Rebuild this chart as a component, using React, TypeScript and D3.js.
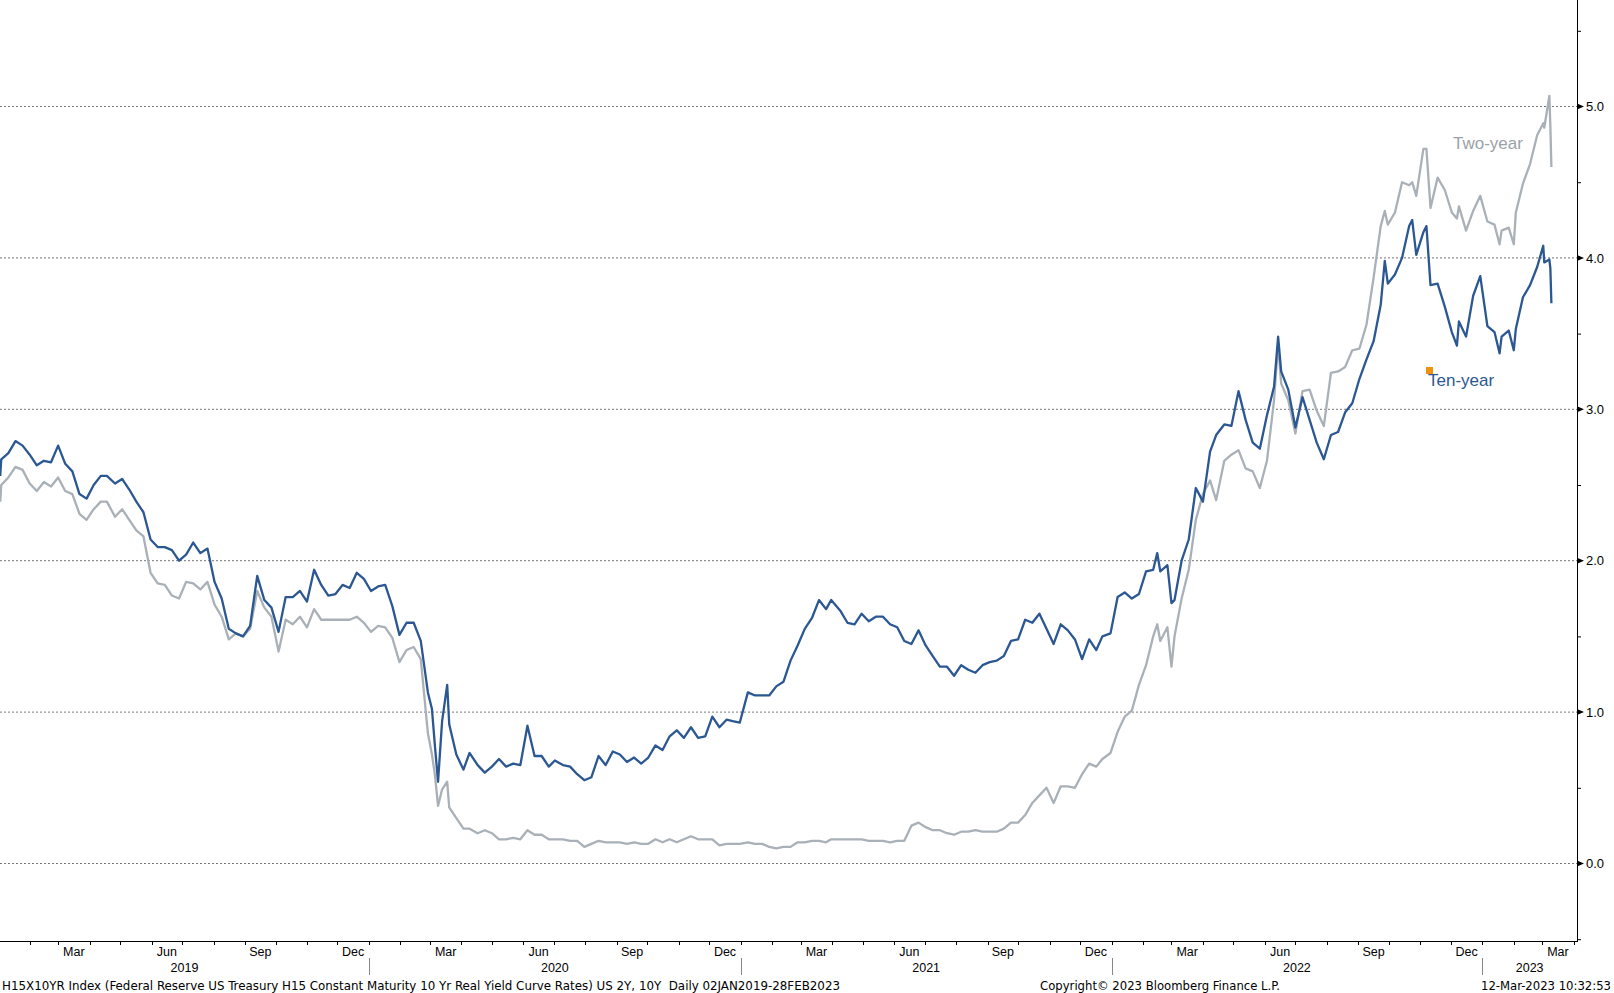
import React from 'react';
import * as d3 from 'd3';

// weekly closes (plus a few spike days)
const dates2019 = ['01-03', '01-04', '01-11', '01-18', '01-25', '02-01', '02-08', '02-15', '02-22',
  '03-01', '03-08', '03-15', '03-22', '03-29', '04-05', '04-12', '04-18', '04-26',
  '05-03', '05-10', '05-17', '05-24', '05-31', '06-07', '06-14', '06-21', '06-28',
  '07-05', '07-12', '07-19', '07-26', '08-02', '08-09', '08-16', '08-23', '08-30',
  '09-06', '09-13', '09-20', '09-27', '10-04', '10-11', '10-18', '10-25',
  '11-01', '11-08', '11-15', '11-22', '11-29', '12-06', '12-13', '12-20', '12-27'];
const ten2019 = [2.56, 2.67, 2.71, 2.79, 2.76, 2.70, 2.63, 2.66, 2.65,
  2.76, 2.64, 2.59, 2.44, 2.41, 2.50, 2.56, 2.56, 2.51,
  2.54, 2.47, 2.39, 2.32, 2.14, 2.09, 2.09, 2.07, 2.00,
  2.04, 2.12, 2.05, 2.08, 1.86, 1.75, 1.55, 1.52, 1.50,
  1.57, 1.90, 1.74, 1.69, 1.53, 1.76, 1.76, 1.80,
  1.73, 1.94, 1.84, 1.77, 1.78, 1.84, 1.82, 1.92, 1.88];
const two2019 = [2.39, 2.50, 2.55, 2.62, 2.60, 2.51, 2.46, 2.52, 2.49,
  2.55, 2.46, 2.44, 2.31, 2.27, 2.34, 2.39, 2.39, 2.29,
  2.34, 2.27, 2.20, 2.16, 1.92, 1.85, 1.84, 1.77, 1.75,
  1.86, 1.85, 1.81, 1.86, 1.71, 1.63, 1.48, 1.52, 1.50,
  1.55, 1.80, 1.69, 1.63, 1.40, 1.61, 1.58, 1.63,
  1.56, 1.68, 1.61, 1.61, 1.61, 1.61, 1.61, 1.63, 1.59];

const dates2020 = ['01-03', '01-10', '01-17', '01-24', '01-31', '02-07', '02-14', '02-21', '02-28',
  '03-03', '03-06', '03-09', '03-13', '03-18', '03-20', '03-27', '04-03', '04-09', '04-17', '04-24',
  '05-01', '05-08', '05-15', '05-22', '05-29', '06-05', '06-12', '06-19', '06-26',
  '07-02', '07-10', '07-17', '07-24', '07-31', '08-07', '08-14', '08-21', '08-28',
  '09-04', '09-11', '09-18', '09-25', '10-02', '10-09', '10-16', '10-23', '10-30',
  '11-06', '11-13', '11-20', '11-27', '12-04', '12-11', '12-18', '12-24', '12-31'];
const ten2020 = [1.80, 1.83, 1.84, 1.70, 1.51, 1.59, 1.59, 1.47, 1.13,
  1.02, 0.77, 0.54, 0.94, 1.18, 0.92, 0.72, 0.62, 0.73, 0.65, 0.60,
  0.64, 0.69, 0.64, 0.66, 0.65, 0.91, 0.71, 0.71, 0.64,
  0.68, 0.65, 0.64, 0.59, 0.55, 0.57, 0.71, 0.65, 0.74,
  0.72, 0.67, 0.70, 0.66, 0.70, 0.78, 0.75, 0.84, 0.88,
  0.83, 0.90, 0.83, 0.84, 0.97, 0.90, 0.95, 0.94, 0.93];
const two2020 = [1.53, 1.57, 1.56, 1.49, 1.33, 1.41, 1.43, 1.35, 0.86,
  0.72, 0.58, 0.38, 0.49, 0.54, 0.37, 0.30, 0.23, 0.23, 0.20, 0.22,
  0.20, 0.16, 0.16, 0.17, 0.16, 0.22, 0.19, 0.19, 0.16,
  0.16, 0.16, 0.15, 0.15, 0.11, 0.13, 0.15, 0.14, 0.14,
  0.14, 0.13, 0.14, 0.13, 0.13, 0.16, 0.14, 0.16, 0.14,
  0.16, 0.18, 0.16, 0.16, 0.16, 0.12, 0.13, 0.13, 0.13];

const dates2021 = ['01-08', '01-15', '01-22', '01-29', '02-05', '02-12', '02-19', '02-26',
  '03-05', '03-12', '03-19', '03-26', '03-31', '04-09', '04-16', '04-23', '04-30',
  '05-07', '05-14', '05-21', '05-28', '06-04', '06-11', '06-18', '06-25',
  '07-02', '07-09', '07-16', '07-23', '07-30', '08-06', '08-13', '08-20', '08-27',
  '09-03', '09-10', '09-17', '09-24', '10-01', '10-08', '10-15', '10-22', '10-29',
  '11-05', '11-12', '11-19', '11-26', '12-03', '12-10', '12-17', '12-23', '12-31'];
const ten2021 = [1.13, 1.11, 1.11, 1.11, 1.17, 1.20, 1.34, 1.44,
  1.55, 1.62, 1.74, 1.68, 1.74, 1.67, 1.59, 1.58, 1.65,
  1.60, 1.63, 1.63, 1.58, 1.56, 1.47, 1.45, 1.54,
  1.44, 1.37, 1.30, 1.30, 1.24, 1.31, 1.28, 1.26, 1.31,
  1.33, 1.34, 1.37, 1.47, 1.48, 1.61, 1.59, 1.65, 1.55,
  1.45, 1.58, 1.54, 1.48, 1.35, 1.48, 1.41, 1.50, 1.52];
const two2021 = [0.14, 0.13, 0.13, 0.11, 0.10, 0.11, 0.11, 0.14,
  0.14, 0.15, 0.15, 0.14, 0.16, 0.16, 0.16, 0.16, 0.16,
  0.15, 0.15, 0.15, 0.14, 0.15, 0.15, 0.25, 0.27,
  0.24, 0.22, 0.22, 0.20, 0.19, 0.21, 0.21, 0.22, 0.21,
  0.21, 0.21, 0.23, 0.27, 0.27, 0.32, 0.40, 0.45, 0.50,
  0.40, 0.51, 0.51, 0.50, 0.59, 0.66, 0.64, 0.69, 0.73];

const dates2022 = ['01-07', '01-14', '01-21', '01-28', '02-04', '02-11', '02-15', '02-18', '02-25',
  '03-01', '03-04', '03-11', '03-18', '03-25', '04-01', '04-08', '04-14', '04-22', '04-29',
  '05-06', '05-13', '05-20', '05-27', '06-03', '06-10', '06-14', '06-17', '06-24',
  '07-01', '07-08', '07-15', '07-22', '07-29', '08-05', '08-12', '08-19', '08-26',
  '09-02', '09-09', '09-16', '09-23', '09-27', '09-30', '10-07', '10-14', '10-21', '10-24', '10-28',
  '11-04', '11-07', '11-11', '11-18', '11-25', '12-02', '12-07', '12-09', '12-16', '12-23', '12-30'];
const ten2022 = [1.76, 1.79, 1.75, 1.78, 1.93, 1.94, 2.05, 1.93, 1.97,
  1.72, 1.74, 2.00, 2.14, 2.48, 2.39, 2.72, 2.83, 2.90, 2.89,
  3.12, 2.93, 2.78, 2.74, 2.96, 3.15, 3.48, 3.25, 3.13,
  2.88, 3.08, 2.93, 2.78, 2.67, 2.83, 2.85, 2.98, 3.04,
  3.20, 3.33, 3.45, 3.69, 3.98, 3.83, 3.89, 4.00, 4.21, 4.25, 4.02,
  4.17, 4.21, 3.82, 3.83, 3.68, 3.51, 3.42, 3.58, 3.48, 3.75, 3.88];
const two2022 = [0.87, 0.97, 1.01, 1.18, 1.31, 1.50, 1.58, 1.47, 1.56,
  1.30, 1.50, 1.75, 1.94, 2.27, 2.44, 2.53, 2.40, 2.66, 2.70,
  2.73, 2.61, 2.59, 2.48, 2.66, 3.06, 3.43, 3.17, 3.06,
  2.84, 3.12, 3.13, 2.99, 2.89, 3.24, 3.25, 3.28, 3.39,
  3.40, 3.56, 3.87, 4.21, 4.31, 4.22, 4.30, 4.50, 4.48, 4.50, 4.41,
  4.72, 4.72, 4.33, 4.53, 4.45, 4.30, 4.26, 4.34, 4.18, 4.31, 4.41];

const dates2023 = ['01-06', '01-13', '01-18', '01-20', '01-27', '02-01', '02-03', '02-10', '02-17', '02-24',
  '03-02', '03-03', '03-08', '03-09', '03-10'];
const ten2023 = [3.55, 3.51, 3.37, 3.48, 3.52, 3.39, 3.53, 3.74, 3.82, 3.94,
  4.08, 3.97, 3.99, 3.93, 3.70];
const two2023 = [4.24, 4.22, 4.09, 4.18, 4.20, 4.09, 4.30, 4.49, 4.62, 4.81,
  4.89, 4.86, 5.07, 4.87, 4.60];

const years = ['2019', '2020', '2021', '2022', '2023'];
const labelMonths = ['Mar', 'Jun', 'Sep', 'Dec'];
const yTicks = [0, 1, 2, 3, 4, 5];
const yMinor = [-0.5, 0.5, 1.5, 2.5, 3.5, 4.5, 5.5];

const footLeft = 'H15X10YR Index (Federal Reserve US Treasury H15 Constant Maturity 10 Yr Real Yield Curve Rates) US 2Y, 10Y  Daily 02JAN2019-28FEB2023';
const footMid = 'Copyright\u00a9 2023 Bloomberg Finance L.P.';
const footRight = '12-Mar-2023 10:32:53';

const parse = d3.utcParse('%Y-%m-%d');
const allDates = [
  ...dates2019.map((d) => '2019-' + d),
  ...dates2020.map((d) => '2020-' + d),
  ...dates2021.map((d) => '2021-' + d),
  ...dates2022.map((d) => '2022-' + d),
  ...dates2023.map((d) => '2023-' + d),
].map((d) => parse(d) as Date);
const tenYear = [...ten2019, ...ten2020, ...ten2021, ...ten2022, ...ten2023];
const twoYear = [...two2019, ...two2020, ...two2021, ...two2022, ...two2023];

const W = 1614;
const H = 993;
const axisX = 1577;
const axisY = 941;
const navy = '#2b5792';
const grey = '#a9b0b7';
const font = '"Liberation Sans", Arial, sans-serif';
const narrow = '"DejaVu Sans Condensed", "Liberation Sans Narrow", sans-serif';

const App: React.FC = () => {
  const x = d3.scaleUtc()
    .domain([new Date(Date.UTC(2019, 0, 1)), new Date(Date.UTC(2023, 0, 1))])
    .range([-1.8, 1482.3]);
  const y = d3.scaleLinear().domain([0, 5]).range([863.5, 106.5]);

  const line = d3.line<number>()
    .x((_, i) => x(allDates[i]))
    .y((d) => y(d));

  const months = d3.utcMonth
    .range(new Date(Date.UTC(2018, 11, 1)), new Date(Date.UTC(2023, 4, 1)));
  const monthTicks = months.filter((m) => x(m) >= 0 && x(m) <= axisX);
  const fmt = d3.utcFormat('%b');
  const monthLabels = months
    .filter((m) => labelMonths.includes(fmt(m)))
    .map((m) => ({ name: fmt(m), cx: (x(m) + x(d3.utcMonth.offset(m, 1))) / 2 }))
    .filter((m) => m.cx > 0 && m.cx < axisX);

  const yearInfo = years.map((yr) => {
    const a = Math.max(0, x(new Date(Date.UTC(+yr, 0, 1))));
    const b = Math.min(axisX, x(new Date(Date.UTC(+yr + 1, 0, 1))));
    return { yr, start: x(new Date(Date.UTC(+yr, 0, 1))), cx: (a + b) / 2 };
  });

  return (
    <div style={{ position: 'absolute', left: 0, top: 0 }}>
      <svg width={W} height={H} style={{ display: 'block', background: '#fff' }}>
        {/* grid */}
        {yTicks.map((t) => (
          <line key={'g' + t} x1={0} x2={axisX} y1={y(t)} y2={y(t)}
            stroke="#777" strokeWidth={1} strokeDasharray="2,2" />
        ))}

        {/* series */}
        <path d={line(twoYear) || ''} fill="none" stroke={grey} strokeWidth={2.3} strokeLinejoin="round" />
        <path d={line(tenYear) || ''} fill="none" stroke={navy} strokeWidth={2.3} strokeLinejoin="round" />

        {/* right axis */}
        <line x1={axisX + 0.5} x2={axisX + 0.5} y1={0} y2={axisY} stroke="#000" strokeWidth={1} />
        {yMinor.map((t) => (
          <line key={'m' + t} x1={axisX} x2={axisX + 4} y1={y(t) + 0.5} y2={y(t) + 0.5} stroke="#000" />
        ))}
        {yTicks.map((t) => (
          <g key={'t' + t}>
            <path d={`M${axisX},${y(t) - 3}L${axisX + 7},${y(t)}L${axisX},${y(t) + 3}Z`} fill="#000" />
            <text x={axisX + 9} y={y(t)} dy="0.36em" fontFamily={font} fontSize={13} fill="#000">
              {t.toFixed(1)}
            </text>
          </g>
        ))}

        {/* bottom axis */}
        <line x1={0} x2={axisX + 1} y1={axisY + 0.5} y2={axisY + 0.5} stroke="#000" strokeWidth={1} />
        {monthTicks.map((m) => (
          <line key={'mt' + m.getTime()} x1={Math.round(x(m)) + 0.5} x2={Math.round(x(m)) + 0.5}
            y1={axisY} y2={axisY + 4} stroke="#000" />
        ))}
        {monthLabels.map((m) => (
          <text key={'ml' + m.cx} x={m.cx} y={956} textAnchor="middle" fontFamily={font} fontSize={12.5} fill="#000">
            {m.name}
          </text>
        ))}
        {yearInfo.filter((d) => d.start > 0).map((d) => (
          <line key={'ys' + d.yr} x1={Math.round(d.start) + 0.5} x2={Math.round(d.start) + 0.5}
            y1={958} y2={975} stroke="#888" />
        ))}
        {yearInfo.map((d) => (
          <text key={'yl' + d.yr} x={d.cx} y={972} textAnchor="middle" fontFamily={font} fontSize={12.5} fill="#000">
            {d.yr}
          </text>
        ))}

        {/* series labels */}
        <text x={1453} y={149} fontFamily={font} fontSize={17} fill="#9ba1a8">Two-year</text>
        <rect x={1426} y={367} width={7} height={7} fill="#f0920c" />
        <text x={1428} y={386} fontFamily={font} fontSize={17} fill={navy}>Ten-year</text>

        {/* footer */}
        <text x={2} y={990} fontFamily={narrow} fontSize={13} fill="#000"
          textLength={838} lengthAdjust="spacingAndGlyphs" xmlSpace="preserve">{footLeft}</text>
        <text x={1040} y={990} fontFamily={narrow} fontSize={13} fill="#000"
          textLength={240} lengthAdjust="spacingAndGlyphs">{footMid}</text>
        <text x={1481} y={990} fontFamily={narrow} fontSize={13} fill="#000"
          textLength={130} lengthAdjust="spacingAndGlyphs">{footRight}</text>
      </svg>
    </div>
  );
};

export default App;
